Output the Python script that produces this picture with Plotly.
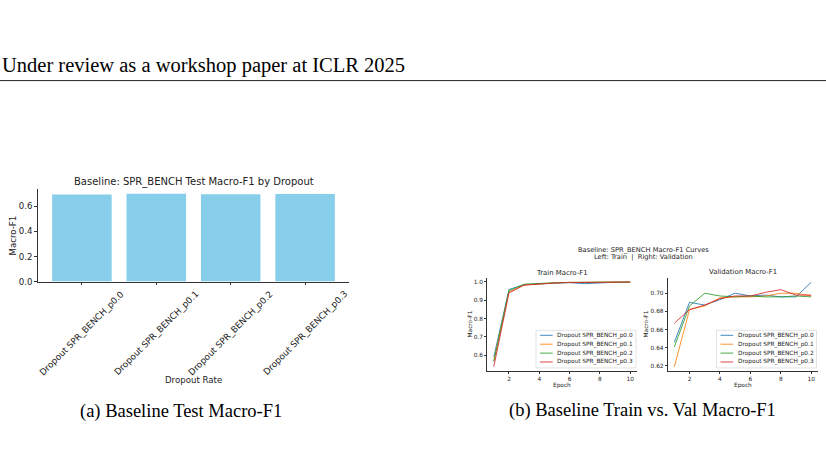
import plotly.graph_objects as go

W, H = 826, 457

# ---------------- data ----------------
bar_categories = ["Dropout SPR_BENCH_p0.0", "Dropout SPR_BENCH_p0.1",
                  "Dropout SPR_BENCH_p0.2", "Dropout SPR_BENCH_p0.3"]
test_macro_f1 = [0.695, 0.700, 0.697, 0.699]

epochs = [1, 2, 3, 4, 5, 6, 7, 8, 9, 10]
series_names = ["Dropout SPR_BENCH_p0.0", "Dropout SPR_BENCH_p0.1",
                "Dropout SPR_BENCH_p0.2", "Dropout SPR_BENCH_p0.3"]
train_p00 = [0.590, 0.958, 0.985, 0.990, 0.995, 0.996, 0.990, 0.996, 0.998, 0.998]
train_p01 = [0.570, 0.945, 0.983, 0.990, 0.994, 0.997, 0.998, 0.998, 0.999, 0.999]
train_p02 = [0.565, 0.952, 0.987, 0.992, 0.995, 0.997, 0.998, 0.999, 0.999, 0.999]
train_p03 = [0.537, 0.940, 0.982, 0.989, 0.994, 0.996, 0.997, 0.998, 0.999, 0.999]
val_p00 = [0.646, 0.690, 0.687, 0.693, 0.700, 0.697, 0.698, 0.696, 0.696, 0.712]
val_p01 = [0.619, 0.682, 0.686, 0.695, 0.696, 0.696, 0.697, 0.700, 0.700, 0.697]
val_p02 = [0.641, 0.686, 0.700, 0.697, 0.696, 0.697, 0.696, 0.696, 0.697, 0.696]
val_p03 = [0.667, 0.682, 0.687, 0.694, 0.697, 0.697, 0.701, 0.704, 0.698, 0.698]
train_series = [train_p00, train_p01, train_p02, train_p03]
val_series = [val_p00, val_p01, val_p02, val_p03]
line_colors = ["#1f77b4", "#ff7f0e", "#2ca02c", "#d62728"]

header_text = "Under review as a workshop paper at ICLR 2025"
caption_a = "(a) Baseline Test Macro-F1"
caption_b = "(b) Baseline Train vs. Val Macro-F1"


def px(x):
    return x / W


def py(y):
    return 1 - y / H


SANS = "DejaVu Sans"
SERIF = "Liberation Serif"
AX = "#333333"

fig = go.Figure()

# ---------------- bar chart ----------------
fig.add_trace(go.Bar(x=list(range(len(bar_categories))), y=test_macro_f1,
                     width=0.8, marker=dict(color="#87CEEB", line=dict(width=0)),
                     xaxis="x", yaxis="y", showlegend=False,
                     hovertext=bar_categories))

# ---------------- line charts ----------------
for name, ys, c in zip(series_names, train_series, line_colors):
    fig.add_trace(go.Scatter(x=epochs, y=ys, mode="lines", name=name,
                             line=dict(color=c, width=1), opacity=0.85,
                             xaxis="x2", yaxis="y2", showlegend=False))
for name, ys, c in zip(series_names, val_series, line_colors):
    fig.add_trace(go.Scatter(x=epochs, y=ys, mode="lines", name=name,
                             line=dict(color=c, width=1), opacity=0.85,
                             xaxis="x3", yaxis="y3", showlegend=False))

common_axis = dict(showgrid=False, zeroline=False, showline=True, linecolor=AX,
                   ticks="outside", tickcolor=AX, mirror=False)

layout = dict(
    width=W, height=H, margin=dict(l=0, r=0, t=0, b=0),
    paper_bgcolor="white", plot_bgcolor="white", showlegend=False,
    xaxis=dict(common_axis, domain=[px(38), px(349)], range=[-0.59, 3.59],
               tickvals=[0, 1, 2, 3], showticklabels=False, ticklen=3,
               linewidth=0.8, anchor="y"),
    yaxis=dict(common_axis, domain=[py(284.7), py(191.5)], range=[0, 0.735],
               tickvals=[0, 0.2, 0.4, 0.6], tickformat=".1f", ticklen=3,
               linewidth=0.8, tickfont=dict(family=SANS, size=8.6, color="#222"),
               anchor="x"),
    xaxis2=dict(common_axis, domain=[px(487), px(637)], range=[0.55, 10.45],
                tickvals=[2, 4, 6, 8, 10], ticklen=2.5, linewidth=0.6, tickwidth=0.6,
                tickfont=dict(family=SANS, size=5.8, color="#222"), anchor="y2"),
    yaxis2=dict(common_axis, domain=[py(375), py(280.7)], range=[0.514, 1.023],
                tickvals=[0.6, 0.7, 0.8, 0.9, 1.0], tickformat=".1f", ticklen=2,
                linewidth=0.6, tickwidth=0.6,
                tickfont=dict(family=SANS, size=5.8, color="#222"), anchor="x2"),
    xaxis3=dict(common_axis, domain=[px(667.5), px(818)], range=[0.55, 10.45],
                tickvals=[2, 4, 6, 8, 10], ticklen=2.5, linewidth=0.6, tickwidth=0.6,
                tickfont=dict(family=SANS, size=5.8, color="#222"), anchor="y3"),
    yaxis3=dict(common_axis, domain=[py(375), py(280.7)], range=[0.6145, 0.7172],
                tickvals=[0.62, 0.64, 0.66, 0.68, 0.70], tickformat=".2f", ticklen=2,
                linewidth=0.6, tickwidth=0.6,
                tickfont=dict(family=SANS, size=5.8, color="#222"), anchor="x3"),
)
fig.update_layout(**layout)

ann = []


def text(t, x, y, size, family=SANS, xanchor="center", yanchor="middle",
         angle=0, color="#222", xref="paper"):
    ann.append(dict(text=t, x=x, y=y, xref=xref, yref="paper", showarrow=False,
                    xanchor=xanchor, yanchor=yanchor, textangle=angle,
                    font=dict(family=family, size=size, color=color)))


# header + captions
text(header_text, px(0), py(66.5), 20.5, family=SERIF, xanchor="left", color="#000")
text(caption_a, px(180.5), py(416), 18.5, family=SERIF, color="#000")
text(caption_b, px(642.5), py(415), 18.5, family=SERIF, color="#000")

# bar chart texts
text("Baseline: SPR_BENCH Test Macro-F1 by Dropout", px(193.5), py(184), 10)
text("Macro-F1", px(13), py(238), 8.6, angle=-90)
text("Dropout Rate", px(193.5), py(384), 8.6)
for i, lab in enumerate(bar_categories):
    text(lab, i, py(289), 8.8, xanchor="center", yanchor="top", angle=-45, xref="x")

# line chart texts
text("Baseline: SPR_BENCH Macro-F1 Curves", px(643), py(252.3), 6.7)
text("Left: Train  |  Right: Validation", px(643), py(259.5), 6.7)
text("Train Macro-F1", px(562), py(275.7), 6.9)
text("Validation Macro-F1", px(743), py(275.3), 6.9)
text("Macro-F1", px(470), py(328), 5.8, angle=-90)
text("Macro-F1", px(646), py(328), 5.8, angle=-90)
text("Epoch", px(562), py(389.5), 5.8)
text("Epoch", px(743), py(389.5), 5.8)

shapes = [dict(type="line", xref="paper", yref="paper", x0=0, x1=1,
               y0=py(81.5), y1=py(81.5), line=dict(color="#222", width=1))]

# legends (drawn per subplot)
for dx in (0, 180.5):
    shapes.append(dict(type="rect", xref="paper", yref="paper",
                       x0=px(536 + dx), x1=px(636 + dx), y0=py(372), y1=py(334),
                       line=dict(color="#d0d0d0", width=0.6),
                       fillcolor="rgba(255,255,255,0.8)"))
    for k, (name, c) in enumerate(zip(series_names, line_colors)):
        yy = 339 + 9 * k
        shapes.append(dict(type="line", xref="paper", yref="paper",
                           x0=px(540 + dx), x1=px(552.7 + dx), y0=py(yy), y1=py(yy),
                           line=dict(color=c, width=1), opacity=0.85))
        text(name, px(555.3 + dx), py(yy), 5.8, xanchor="left")

fig.update_layout(annotations=ann, shapes=shapes)
fig.write_html("out.html")
